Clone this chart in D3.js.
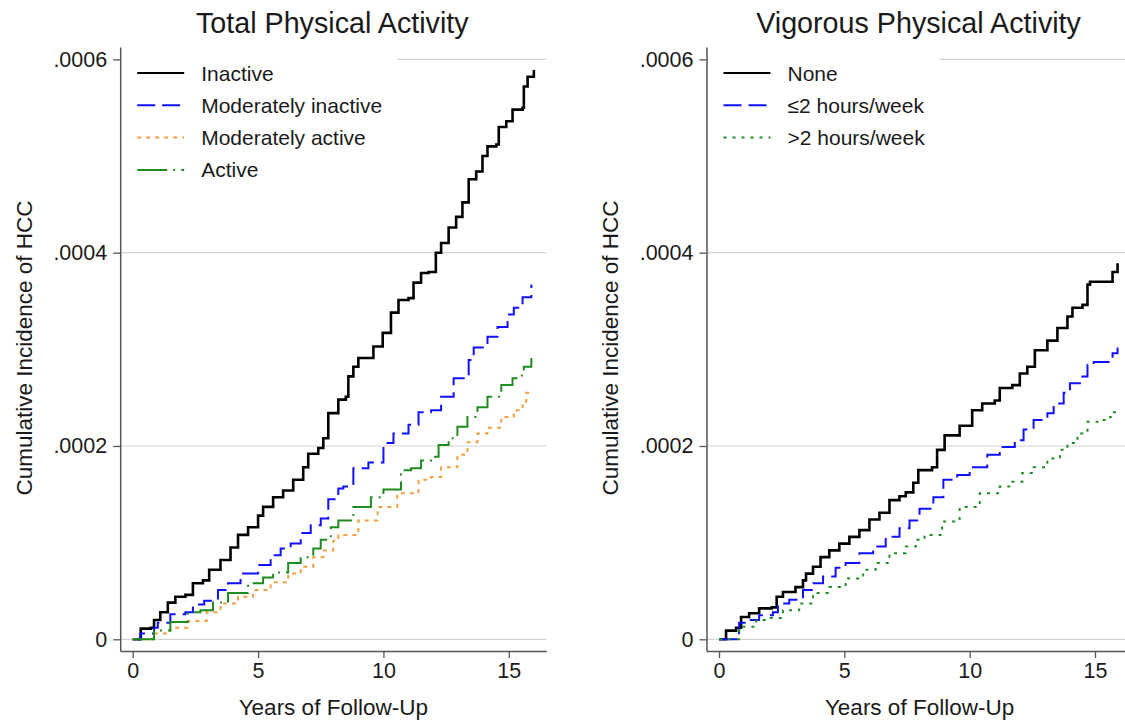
<!DOCTYPE html>
<html><head><meta charset="utf-8">
<script src="https://cdn.jsdelivr.net/npm/d3@7"></script>
<style>body{margin:0;background:#fff}svg{display:block}text{font-family:"Liberation Sans",Arial,sans-serif;fill:#1a1a1a}</style>
</head><body><svg id="c" width="1125" height="722"></svg>
<script>
// ---- data (years of follow-up, cumulative incidence) ----
const titles = ["Total Physical Activity", "Vigorous Physical Activity"];
const yTicks = [0, 0.0002, 0.0004, 0.0006];
const yTickLabels = ["0", ".0002", ".0004", ".0006"];
const xTicks = [0, 5, 10, 15];
const xTitle = "Years of Follow-Up";
const yTitle = "Cumulative Incidence of HCC";

const totalLabels = ["Inactive", "Moderately inactive", "Moderately active", "Active"];
const vigorousLabels = ["None", "\u22642 hours/week", ">2 hours/week"];

const inactive = [[0,0],[0.32,0.11e-4],[0.72,0.12e-4],[0.85,0.20e-4],[1.1,0.28e-4],[1.4,0.38e-4],[1.7,0.44e-4],[2.1,0.46e-4],[2.4,0.58e-4],[2.8,0.61e-4],[3.05,0.72e-4],[3.5,0.82e-4],[3.9,0.95e-4],[4.2,1.08e-4],[4.6,1.16e-4],[5.0,1.28e-4],[5.2,1.37e-4],[5.6,1.47e-4],[6.0,1.54e-4],[6.4,1.65e-4],[6.8,1.78e-4],[7.0,1.92e-4],[7.4,1.98e-4],[7.6,2.08e-4],[7.8,2.34e-4],[8.2,2.48e-4],[8.5,2.51e-4],[8.6,2.72e-4],[8.8,2.82e-4],[9.0,2.91e-4],[9.6,3.03e-4],[9.97,3.17e-4],[10.3,3.38e-4],[10.6,3.51e-4],[11.0,3.53e-4],[11.2,3.69e-4],[11.5,3.79e-4],[11.8,3.80e-4],[12.09,4.0e-4],[12.3,4.10e-4],[12.6,4.26e-4],[12.9,4.37e-4],[13.15,4.52e-4],[13.4,4.76e-4],[13.7,4.84e-4],[13.95,5.0e-4],[14.15,5.10e-4],[14.5,5.12e-4],[14.6,5.30e-4],[14.9,5.36e-4],[15.15,5.48e-4],[15.55,5.50e-4],[15.6,5.72e-4],[15.75,5.82e-4],[16.0,5.89e-4]];
const modInactive = [[0,0],[0.3,0.06e-4],[0.85,0.12e-4],[1.0,0.17e-4],[1.5,0.26e-4],[2.1,0.28e-4],[2.4,0.36e-4],[2.85,0.40e-4],[3.4,0.51e-4],[3.8,0.58e-4],[4.3,0.68e-4],[5.0,0.77e-4],[5.5,0.87e-4],[5.9,0.94e-4],[6.3,0.99e-4],[6.7,1.10e-4],[7.1,1.18e-4],[7.5,1.25e-4],[7.8,1.45e-4],[8.2,1.56e-4],[8.4,1.58e-4],[8.8,1.77e-4],[9.4,1.83e-4],[10.0,2.03e-4],[10.4,2.13e-4],[11.0,2.22e-4],[11.4,2.35e-4],[11.9,2.37e-4],[12.3,2.51e-4],[12.8,2.70e-4],[13.4,2.89e-4],[13.6,3.02e-4],[14.15,3.13e-4],[14.55,3.23e-4],[14.95,3.36e-4],[15.2,3.43e-4],[15.55,3.54e-4],[15.9,3.67e-4]];
const modActive = [[0,0],[0.85,0.06e-4],[1.5,0.12e-4],[2.2,0.19e-4],[2.95,0.28e-4],[3.5,0.37e-4],[4.2,0.44e-4],[4.8,0.51e-4],[5.5,0.59e-4],[6.2,0.68e-4],[6.7,0.75e-4],[7.2,0.85e-4],[7.6,0.92e-4],[8.0,1.02e-4],[8.2,1.08e-4],[9.0,1.23e-4],[9.77,1.37e-4],[10.55,1.51e-4],[11.4,1.65e-4],[11.9,1.68e-4],[12.3,1.78e-4],[12.95,1.91e-4],[13.35,2.04e-4],[13.75,2.13e-4],[14.15,2.19e-4],[14.7,2.30e-4],[15.2,2.37e-4],[15.55,2.46e-4],[15.7,2.55e-4],[15.95,2.56e-4]];
const active = [[0,0],[0.85,0.09e-4],[1.5,0.18e-4],[2.2,0.28e-4],[2.7,0.30e-4],[3.2,0.38e-4],[3.8,0.48e-4],[4.6,0.58e-4],[5.2,0.64e-4],[5.6,0.69e-4],[6.2,0.79e-4],[6.7,0.85e-4],[7.2,0.94e-4],[7.5,1.03e-4],[7.9,1.16e-4],[8.2,1.23e-4],[8.8,1.37e-4],[9.5,1.47e-4],[10.0,1.55e-4],[10.7,1.75e-4],[11.1,1.77e-4],[11.5,1.85e-4],[11.9,1.89e-4],[12.2,2.01e-4],[12.6,2.08e-4],[12.95,2.20e-4],[13.35,2.30e-4],[13.75,2.40e-4],[14.15,2.51e-4],[14.7,2.63e-4],[15.15,2.70e-4],[15.3,2.73e-4],[15.6,2.82e-4],[15.9,2.91e-4]];

const vigNone = [[0,0],[0.28,0.09e-4],[0.68,0.12e-4],[0.88,0.23e-4],[1.2,0.27e-4],[1.6,0.32e-4],[2.1,0.33e-4],[2.3,0.44e-4],[2.55,0.49e-4],[3.05,0.54e-4],[3.35,0.61e-4],[3.47,0.68e-4],[3.75,0.75e-4],[4.05,0.85e-4],[4.4,0.92e-4],[4.8,0.99e-4],[5.2,1.06e-4],[5.6,1.13e-4],[6.0,1.24e-4],[6.4,1.31e-4],[6.8,1.44e-4],[7.2,1.48e-4],[7.45,1.52e-4],[7.75,1.62e-4],[7.95,1.75e-4],[8.5,1.78e-4],[8.7,1.96e-4],[9.0,2.11e-4],[9.35,2.11e-4],[9.6,2.21e-4],[10.1,2.37e-4],[10.5,2.44e-4],[11.0,2.47e-4],[11.2,2.60e-4],[11.7,2.63e-4],[12.0,2.75e-4],[12.3,2.82e-4],[12.6,2.99e-4],[13.1,3.09e-4],[13.5,3.22e-4],[13.9,3.34e-4],[14.1,3.43e-4],[14.5,3.46e-4],[14.7,3.67e-4],[14.8,3.70e-4],[15.5,3.70e-4],[15.7,3.80e-4],[15.9,3.89e-4]];
const vigLow = [[0,0],[0.8,0.17e-4],[1.07,0.20e-4],[1.6,0.25e-4],[2.15,0.28e-4],[2.35,0.37e-4],[2.8,0.41e-4],[3.35,0.51e-4],[3.75,0.58e-4],[4.15,0.65e-4],[4.65,0.74e-4],[5.05,0.79e-4],[5.6,0.89e-4],[6.15,0.96e-4],[6.65,1.06e-4],[7.2,1.15e-4],[7.6,1.23e-4],[8.0,1.35e-4],[8.55,1.47e-4],[8.95,1.65e-4],[9.5,1.70e-4],[10.0,1.78e-4],[10.7,1.91e-4],[11.2,1.99e-4],[11.8,2.06e-4],[12.15,2.17e-4],[12.55,2.27e-4],[13.1,2.34e-4],[13.35,2.44e-4],[13.75,2.55e-4],[14.0,2.65e-4],[14.5,2.72e-4],[14.7,2.84e-4],[14.95,2.87e-4],[15.5,2.87e-4],[15.7,2.96e-4],[15.9,3.02e-4]];
const vigHigh = [[0,0],[0.8,0.13e-4],[1.48,0.20e-4],[2.0,0.22e-4],[2.55,0.30e-4],[3.2,0.37e-4],[3.75,0.48e-4],[4.4,0.54e-4],[5.05,0.63e-4],[5.75,0.72e-4],[6.25,0.79e-4],[6.8,0.89e-4],[7.45,0.96e-4],[7.85,1.03e-4],[8.2,1.08e-4],[8.9,1.22e-4],[9.6,1.37e-4],[10.4,1.51e-4],[11.2,1.58e-4],[11.7,1.63e-4],[12.1,1.72e-4],[12.55,1.78e-4],[13.1,1.87e-4],[13.6,1.96e-4],[13.9,2.03e-4],[14.3,2.13e-4],[14.7,2.25e-4],[15.2,2.27e-4],[15.6,2.30e-4],[15.7,2.35e-4],[15.9,2.35e-4]];

// ---- styles ----
const sBlack = {color:"#000000", width:2.6, dash:null};
const sBlue = {color:"#1010ff", width:2, dash:"18,7"};
const sOrange = {color:"#f4a040", width:2, dash:"4,5"};
const sGreenDD = {color:"#1f8c1f", width:2, dash:"30,6,2,6"};
const sGreenDot = {color:"#1f8c1f", width:2, dash:"3,6"};

const panels = [
  {title:titles[0], left:120.2, right:546.4, series:[inactive, modInactive, modActive, active], labels:totalLabels, styles:[sBlack,sBlue,sOrange,sGreenDD], legendW:276, ytx:24},
  {title:titles[1], left:706.5, right:1132.6, series:[vigNone, vigLow, vigHigh], labels:vigorousLabels, styles:[sBlack,sBlue,sGreenDot], legendW:232, ytx:610}
];

const svg = d3.select("#c");
svg.append("rect").attr("width",1125).attr("height",722).attr("fill","#fff");
const plotTop = 47, plotBottom = 651;
const y = d3.scaleLinear().domain([-0.0000121, 0.0006128]).range([plotBottom, plotTop]);
const axisColor = "#555";

panels.forEach(p => {
  const x = d3.scaleLinear().domain([-0.5, 16.5]).range([p.left, p.right]);
  const g = svg.append("g");
  // gridlines
  g.selectAll("line.grid").data(yTicks).enter().append("line")
    .attr("x1", p.left).attr("x2", p.right)
    .attr("y1", d => y(d)).attr("y2", d => y(d))
    .attr("stroke", "#d4d4d4").attr("stroke-width", 1.2);
  // lines
  const line = d3.line().x(d => x(d[0])).y(d => y(d[1])).curve(d3.curveStepAfter);
  p.series.forEach((s, i) => {
    const st = p.styles[i];
    g.append("path").datum(s).attr("d", line).attr("fill","none")
      .attr("stroke", st.color).attr("stroke-width", st.width)
      .attr("stroke-dasharray", st.dash).attr("stroke-linejoin","miter");
  });
  // legend box (white) with entries
  const lg = g.append("g");
  lg.append("rect").attr("x", p.left + 1).attr("y", plotTop).attr("width", p.legendW).attr("height", 145).attr("fill", "#fff");
  p.labels.forEach((lab, i) => {
    const cy = 73 + i * 32.3;
    const st = p.styles[i];
    lg.append("line").attr("x1", p.left + 17).attr("x2", p.left + 64).attr("y1", cy).attr("y2", cy)
      .attr("stroke", st.color).attr("stroke-width", st.width === 2.6 ? 2 : st.width).attr("stroke-dasharray", st.dash);
    lg.append("text").attr("x", p.left + 81).attr("y", cy).attr("dy", "0.36em")
      .attr("font-size", 21).text(lab);
  });
  // y axis
  const ya = d3.axisLeft(y).tickValues(yTicks).tickFormat((d, i) => yTickLabels[i]).tickSize(7).tickPadding(6).tickSizeOuter(0);
  const yg = g.append("g").attr("transform", `translate(${p.left},0)`).call(ya);
  yg.select(".domain").attr("stroke", axisColor).attr("stroke-width", 1.5);
  yg.selectAll(".tick line").attr("stroke", axisColor).attr("stroke-width", 1.3);
  yg.selectAll(".tick text").attr("font-size", 21.5).attr("fill", "#1a1a1a").attr("font-family", "Liberation Sans, Arial, sans-serif");
  // x axis
  const xa = d3.axisBottom(x).tickValues(xTicks).tickFormat(d3.format("d")).tickSize(7).tickPadding(5).tickSizeOuter(0);
  const xg = g.append("g").attr("transform", `translate(0,${plotBottom})`).call(xa);
  xg.select(".domain").attr("stroke", axisColor).attr("stroke-width", 1.5);
  xg.selectAll(".tick line").attr("stroke", axisColor).attr("stroke-width", 1.3);
  xg.selectAll(".tick text").attr("font-size", 21.5).attr("fill", "#1a1a1a").attr("font-family", "Liberation Sans, Arial, sans-serif");
  // titles
  const cx = (p.left + p.right) / 2;
  g.append("text").attr("x", cx - 1).attr("y", 33).attr("text-anchor","middle").attr("font-size", 28.7).text(p.title);
  g.append("text").attr("x", cx).attr("y", 715).attr("text-anchor","middle").attr("font-size", 22.5).text(xTitle);
  g.append("text").attr("transform", `translate(${p.ytx},348) rotate(-90)`).attr("text-anchor","middle")
    .attr("dy","0.35em").attr("font-size", 22.5).text(yTitle);
});
</script></body></html>
